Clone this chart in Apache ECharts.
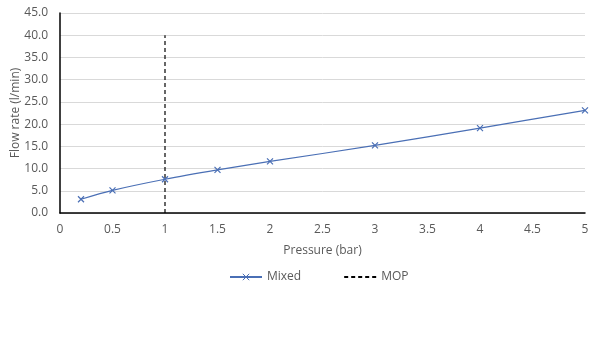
<!DOCTYPE html>
<html>
<head>
<meta charset="utf-8">
<script src="https://cdn.jsdelivr.net/npm/echarts@6/dist/echarts.min.js"></script>
<style>
  html, body { margin: 0; padding: 0; background: #fff; }
  #chart { width: 602px; height: 351px; }
</style>
</head>
<body>
<div id="chart"></div>
<script>
  var pressure = [0.2, 0.5, 1, 1.5, 2, 3, 4, 5];
  var mixedFlow = [3.1, 5.1, 7.6, 9.7, 11.6, 15.2, 19.1, 23.1];
  var mopPressure = [1, 1];
  var mopFlow = [0, 40];

  var labelColor = '#595959';
  var font = '"Open Sans", "Liberation Sans", sans-serif';

  var chart = echarts.init(document.getElementById('chart'));
  chart.setOption({
    backgroundColor: '#fff',
    animation: false,
    textStyle: { fontFamily: font },
    grid: { left: 60, right: 17, top: 13, bottom: 138, containLabel: false, outerBoundsMode: 'none' },
    legend: {
      bottom: 63,
      left: 224,
      itemGap: 42,
      itemWidth: 32,
      itemHeight: 8,
      textStyle: { color: labelColor, fontSize: 12, fontFamily: font },
      data: [
        { name: 'Mixed', itemStyle: { borderWidth: 1 } },
        { name: 'MOP', itemStyle: { color: 'transparent', borderWidth: 0 } }
      ]
    },
    xAxis: {
      type: 'value',
      min: 0,
      max: 5,
      interval: 0.5,
      name: 'Pressure (bar)',
      nameLocation: 'middle',
      nameGap: 32,
      nameMoveOverlap: false,
      nameTextStyle: { color: labelColor, fontSize: 12 },
      axisLine: { show: true, lineStyle: { color: '#000', width: 1.5 } },
      axisTick: { show: false },
      axisLabel: { color: labelColor, fontSize: 12, margin: 11 },
      splitLine: { show: false }
    },
    yAxis: {
      type: 'value',
      min: 0,
      max: 45,
      interval: 5,
      name: 'Flow rate (l/min)',
      nameLocation: 'middle',
      nameGap: 38,
      nameMoveOverlap: false,
      nameTextStyle: { color: labelColor, fontSize: 12 },
      axisLine: { show: true, lineStyle: { color: '#000', width: 1.5 } },
      axisTick: { show: false },
      axisLabel: {
        color: labelColor,
        fontSize: 12,
        margin: 12,
        formatter: function (v) { return v.toFixed(1); }
      },
      splitLine: { lineStyle: { color: '#d9d9d9', width: 1 } }
    },
    series: [
      {
        name: 'Mixed',
        type: 'line',
        smooth: 0.3,
        data: pressure.map(function (p, i) { return [p, mixedFlow[i]]; }),
        symbol: 'path://M0,0L10,10M10,0L0,10',
        symbolSize: 6,
        showSymbol: true,
        lineStyle: { color: '#4a6fb5', width: 1.2 },
        itemStyle: { color: '#4a6fb5', borderColor: '#4a6fb5', borderWidth: 1.2 }
      },
      {
        name: 'MOP',
        type: 'line',
        data: mopPressure.map(function (p, i) { return [p, mopFlow[i]]; }),
        symbol: 'none',
        lineStyle: { color: '#000', width: 1.2, type: [4, 3] },
        itemStyle: { color: '#000' }
      }
    ]
  });
</script>
</body>
</html>
